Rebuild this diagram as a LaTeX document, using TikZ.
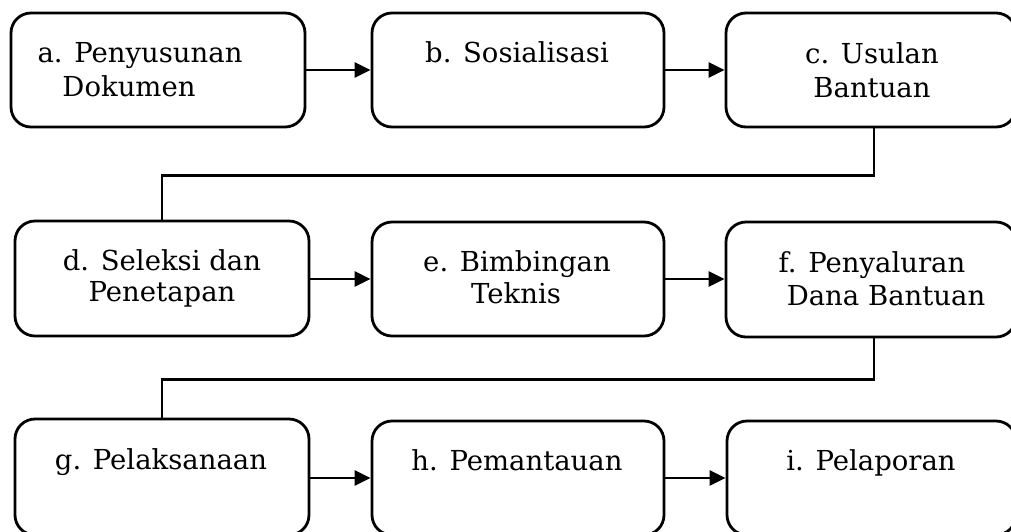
\documentclass[tikz,border=0pt]{standalone}
\usepackage{fontspec}
\setmainfont{DejaVu Serif}
\usetikzlibrary{arrows.meta}
\begin{document}
\begin{tikzpicture}[x=1pt,y=-1pt,
  stepbox/.style={draw, line width=2.8pt, rounded corners=20pt, minimum width=292pt, minimum height=114pt, inner sep=0pt},
  lbl/.style={anchor=base, inner sep=0pt, font=\fontsize{27.5}{32}\selectfont},
  arr/.style={line width=2.6pt, -{Triangle[length=16pt,width=15pt]}},
  conn/.style={line width=2.2pt}]
\useasboundingbox (0,0) rectangle (1011,531);
% row 1
\node[stepbox, minimum width=294pt] (a) at (158,70) {};
\node[stepbox] (b) at (518,70) {};
\node[stepbox, minimum width=290pt] (c) at (871,70) {};
% row 2
\node[stepbox, minimum width=294pt, minimum height=115pt] (d) at (162,278.5) {};
\node[stepbox, minimum height=114pt] (e) at (518,279) {};
\node[stepbox, minimum width=290pt, minimum height=115pt] (f) at (871,279.5) {};
% row 3
\node[stepbox, minimum width=294pt, minimum height=116pt] (g) at (162,477) {};
\node[stepbox, minimum height=114pt] (h) at (518,478) {};
\node[stepbox, minimum width=289pt, minimum height=114pt] (i) at (871.5,478) {};
% texts
\node[lbl] (ta1) at (140,62) {a. Penyusunan};
\node[lbl] (ta2) at (129,96) {Dokumen};
\node[lbl] (tb) at (517,62) {b. Sosialisasi};
\node[lbl] (tc1) at (872,63) {c. Usulan};
\node[lbl] (tc2) at (872,97) {Bantuan};
\node[lbl] (td1) at (162,270) {d. Seleksi dan};
\node[lbl] (td2) at (162,301) {Penetapan};
\node[lbl] (te1) at (517,271) {e. Bimbingan};
\node[lbl] (te2) at (516,303) {Teknis};
\node[lbl] (tf1) at (872,272) {f. Penyaluran};
\node[lbl] (tf2) at (886,305) {Dana Bantuan};
\node[lbl] (tg) at (161,469) {g. Pelaksanaan};
\node[lbl] (th) at (517,470) {h. Pemantauan};
\node[lbl] (ti) at (871,470) {i. Pelaporan};
% arrows
\draw[arr] (a.east) -- (b.west);
\draw[arr] (b.east) -- (c.west);
\draw[arr] (d.east |- e.west) -- (e.west);
\draw[arr] (e.east) -- (f.west |- e.east);
\draw[arr] (g.east |- h.west) -- (h.west);
\draw[arr] (h.east) -- (i.west |- h.east);
% connectors between rows
\draw[conn] ([xshift=3pt]c.south) -- ++(0,47) -| (d.north);
\draw[conn] ([xshift=3pt]f.south) -- ++(0,41) -| (g.north);
\end{tikzpicture}
\end{document}
